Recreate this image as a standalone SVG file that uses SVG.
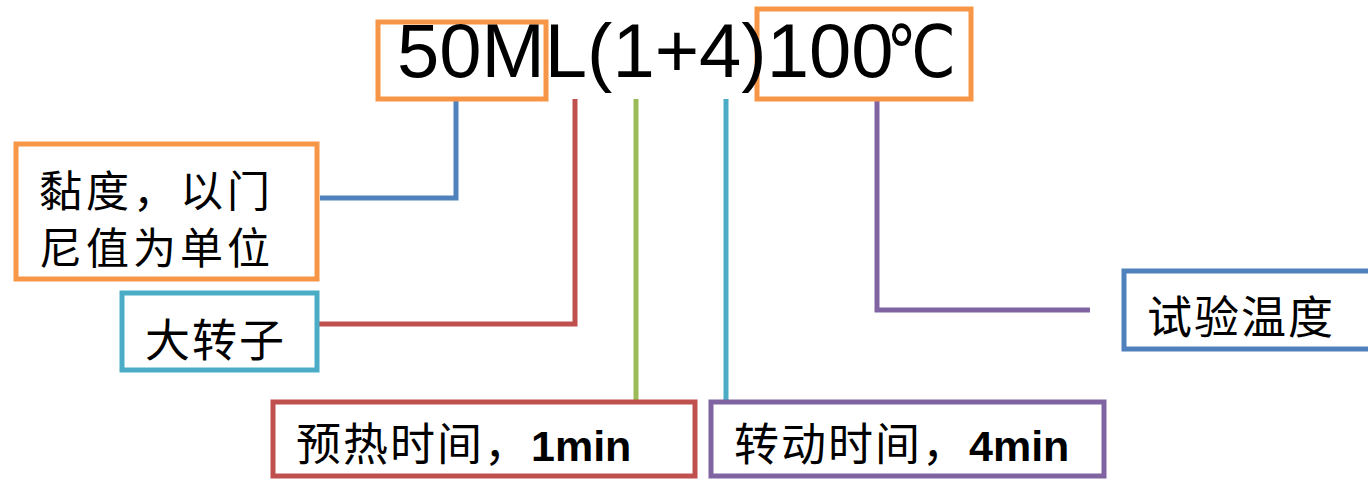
<svg xmlns="http://www.w3.org/2000/svg" width="1368" height="480" viewBox="0 0 1368 480">
<style>
.box{fill:#fff;stroke-width:5}
.cn{font-family:"Noto Sans CJK SC","Noto Sans CJK JP",sans-serif;font-size:45px;letter-spacing:2px;fill:#000}
.cn2{font-size:43px;letter-spacing:4px}
.en{font-family:"Liberation Sans",Arial,sans-serif;font-weight:bold;font-size:43px;letter-spacing:0}
.ln{fill:none;stroke-width:5}
</style>
<rect width="1368" height="480" fill="#fff"/>
<g id="connectors">
<polyline class="ln" stroke="#4F81BD" points="456,99 456,198 320,198"/>
<polyline class="ln" stroke="#C0504D" points="575,99 575,324 318,324"/>
<line class="ln" stroke="#9BBB59" x1="636" y1="99" x2="636" y2="401"/>
<line class="ln" stroke="#4BACC6" x1="726" y1="99" x2="726" y2="401"/>
<polyline class="ln" stroke="#8064A2" points="877,99 877,310 1090,310"/>
</g>
<g id="title">
<rect id="box-50m" x="378" y="22" width="168" height="77" stroke="#F79646" stroke-width="5" fill="none"/>
<rect id="box-100c" x="757" y="9" width="214" height="90" stroke="#F79646" stroke-width="5" fill="none"/>
<text x="397" y="77" font-family="'Liberation Sans',Arial,sans-serif" font-size="76" fill="#000">50ML(1+4)100</text>
<text x="886" y="77" font-family="'DejaVu Sans',sans-serif" font-size="72" textLength="70" lengthAdjust="spacingAndGlyphs" fill="#000">℃</text>
</g>
<g id="node-viscosity">
<rect class="box" x="16" y="144" width="301" height="135" stroke="#F79646"/>
<text class="cn cn2" x="39" y="207">黏度，以门</text>
<text class="cn cn2" x="39" y="264">尼值为单位</text>
</g>
<g id="node-rotor">
<rect class="box" x="122" y="293" width="195" height="77" stroke="#4BACC6"/>
<text class="cn" x="145" y="357">大转子</text>
</g>
<g id="node-preheat">
<rect class="box" x="273" y="402" width="422" height="74" stroke="#C0504D"/>
<text class="cn" x="296" y="461">预热时间，<tspan class="en">1min</tspan></text>
</g>
<g id="node-rotate">
<rect class="box" x="711" y="402" width="393" height="74" stroke="#8064A2"/>
<text class="cn" x="734" y="461">转动时间，<tspan class="en">4min</tspan></text>
</g>
<g id="node-temp">
<rect class="box" x="1124" y="271" width="250" height="78" stroke="#4F81BD"/>
<text class="cn" x="1147" y="334">试验温度</text>
</g>
</svg>
